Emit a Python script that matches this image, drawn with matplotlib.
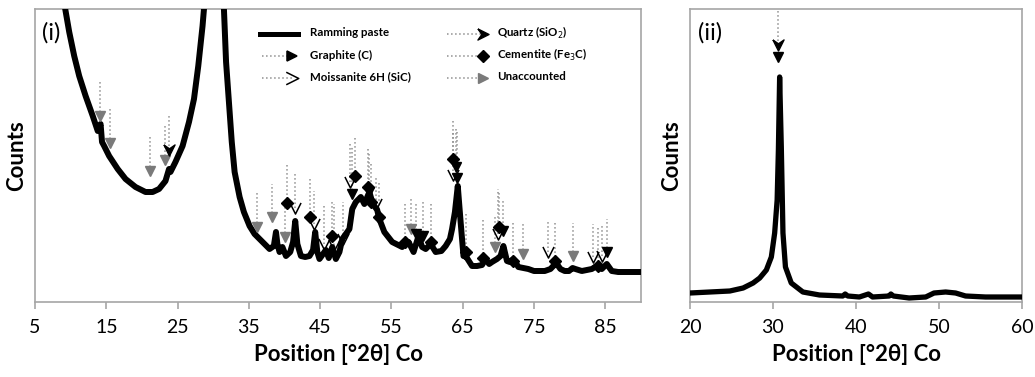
import numpy as np
import matplotlib.pyplot as plt
from matplotlib.path import Path

plt.rcParams['font.family'] = ['Lato', 'DejaVu Sans']

# ---- panel (i): ramming paste pattern (height units) ----
tt_i = [7.8, 8.6, 9.24, 9.8, 10.5, 11.2, 12.1, 13.1, 13.8, 14.2, 14.4, 14.7, 15.4, 16.6,
        17.7, 19.1, 20.5, 21.5, 22.4, 23.3, 23.8, 24.0, 24.7, 25.7, 26.6, 27.3, 27.9,
        28.2, 28.5, 28.7, 29.4, 30.9, 31.3, 31.5, 31.8, 32.2, 32.6, 33.0, 33.7, 34.3,
        35.1, 35.8, 36.5, 37.2, 37.9, 38.5, 38.8, 39.0, 39.3, 39.7, 40.2, 40.8, 41.2,
        41.5, 41.8, 42.3, 42.9, 43.5, 44.0, 44.3, 44.6, 44.9, 45.4, 45.8, 46.2, 46.7,
        47.2, 47.7, 48.1, 48.6, 49.1, 49.5, 50.0, 50.7, 51.2, 51.9, 52.3, 52.6, 53.0,
        53.3, 54.0, 55.1, 56.5, 56.9, 57.4, 58.1, 58.8, 59.3, 59.8, 60.5, 61.2, 62.0,
        62.6, 63.2, 63.5, 63.9, 64.3, 64.7, 65.1, 65.5, 66.3, 67.0, 67.7, 68.2, 68.7,
        69.1, 69.8, 70.3, 70.7, 71.2, 71.6, 72.1, 72.8, 73.5, 74.2, 75.0, 75.6, 76.5,
        77.3, 77.7, 78.0, 78.4, 78.7, 79.3, 79.9, 80.4, 80.8, 81.7, 82.4, 83.1, 83.8,
        84.5, 85.2, 85.9, 86.8, 87.8, 89.2, 90.0]
counts_i = [420, 340, 293, 270, 246, 226, 206, 186, 171, 178, 160, 156, 146, 133,
            123, 115, 110, 110, 113, 121, 133, 130, 140, 156, 180, 203, 236,
            256, 276, 293, 420, 1500, 400, 293, 240, 200, 160, 130, 105, 90,
            76, 68, 63, 58, 53, 56, 70, 58, 50, 55, 46, 50, 60,
            81, 58, 46, 45, 46, 52, 70, 50, 43, 48, 52, 44, 55,
            43, 50, 63, 68, 73, 93, 100, 105, 98, 110, 100, 96, 92,
            83, 70, 60, 55, 58, 60, 50, 66, 55, 53, 58, 50, 51,
            56, 63, 73, 90, 116, 80, 46, 45, 36, 36, 37, 43, 38,
            40, 43, 46, 56, 41, 40, 43, 35, 34, 33, 31, 31, 31,
            33, 36, 41, 36, 33, 31, 31, 34, 33, 31, 32, 33, 36,
            33, 38, 31, 30, 30, 30, 30]

# phase markers: position, marker height, top of the dotted drop line
unacc_x = [14.1, 15.5, 21.1, 23.2, 36.1, 38.3, 40.0, 57.8, 69.5, 73.5, 80.5]
unacc_y = [186, 159, 131, 142, 75, 85, 65, 73, 55, 48, 46]
unacc_top = [220, 193, 166, 176, 110, 118, 96, 105, 86, 80, 79]

graph_x = [49.4, 51.9, 58.5, 59.4, 64.0, 64.2, 70.6, 85.3]
graph_y = [108, 110, 68, 66, 135, 124, 71, 50]
graph_top = [155, 150, 100, 100, 175, 170, 103, 83]

quartz_x = [23.8]
quartz_y = [152]
quartz_top = [188]

moiss_x = [41.4, 44.2, 45.6, 46.9, 48.2, 49.2, 52.8, 63.7, 70.0, 77.0, 83.3, 84.5]
moiss_y = [94, 78, 58, 57, 63, 120, 98, 127, 68, 50, 45, 46]
moiss_top = [128, 111, 96, 98, 100, 160, 125, 170, 113, 80, 78, 78]

cem_x = [40.4, 43.6, 46.6, 49.9, 51.7, 52.1, 53.3, 56.9, 60.5, 63.6, 65.5, 67.9,
         70.1, 72.1, 78.0, 83.9]
cem_y = [99, 85, 66, 126, 115, 100, 85, 60, 60, 143, 50, 44, 75, 41, 41, 36]
cem_top = [138, 123, 100, 166, 155, 140, 120, 98, 100, 183, 88, 83, 110, 81, 80, 75]

# ---- panel (ii) ----
tt_ii = [20.0, 22.4, 24.8, 26.4, 27.6, 28.4, 29.2, 29.8, 30.2, 30.5, 30.65, 30.8,
         31.0, 31.2, 31.5, 32.2, 33.6, 35.6, 38.4, 38.7, 39.0, 40.4, 41.5, 42.0,
         44.0, 44.2, 44.5, 46.4, 48.4, 49.4, 50.8, 52.0, 53.2, 55.6, 59.8, 60.0]
counts_ii = [9, 10, 11, 14, 19, 24, 32, 45, 69, 102, 152, 225,
             155, 69, 35, 19, 10, 7, 6, 8, 6, 5, 8, 5,
             6, 8, 6, 4, 5, 9, 10, 9, 6, 5, 5, 5]
q2_x = [30.6]
q2_y = [257]
g2_y = [245]

labels = ['Ramming paste', 'Graphite (C)', 'Moissanite 6H (SiC)',
          'Quartz (SiO$_2$)', 'Cementite (Fe$_3$C)', 'Unaccounted']

# marker shapes
chev_down = Path([(-1, 1), (0, -1), (1, 1)], [Path.MOVETO, Path.LINETO, Path.LINETO])
chev_right = Path([(-1, 1), (1, 0), (-1, -1)], [Path.MOVETO, Path.LINETO, Path.LINETO])
stealth_down = Path([(-1, 1), (0, -1), (1, 1), (0, 0.3), (-1, 1)])
stealth_right = Path([(-1, 1), (1, 0), (-1, -1), (-0.3, 0), (-1, 1)])

GRID = '#a6a6a6'
DOT = '#8f8f8f'

fig = plt.figure(figsize=(10.35, 3.77), dpi=100)
ax1 = fig.add_axes([35/1035, 1-302/377, 606/1035, 293/377])
ax2 = fig.add_axes([690/1035, 1-302/377, 332/1035, 293/377])

for ax in (ax1, ax2):
    for s in ax.spines.values():
        s.set_color(GRID)
        s.set_linewidth(1.2)
    ax.set_yticks([])
    ax.tick_params(axis='x', direction='out', length=5, width=1.2, color=GRID,
                   labelsize=14, pad=7)
    ax.set_ylabel('Counts', fontsize=16, fontweight='bold', labelpad=6)
    ax.set_xlabel('Position [°2θ] Co', fontsize=16, fontweight='bold', labelpad=6)

# panel (i)
ax1.vlines(unacc_x, unacc_y, unacc_top, colors=DOT, linestyles=':', lw=1.1)
ax1.vlines(graph_x, graph_y, graph_top, colors=DOT, linestyles=':', lw=1.1)
ax1.vlines(quartz_x, quartz_y, quartz_top, colors=DOT, linestyles=':', lw=1.1)
ax1.vlines(moiss_x, moiss_y, moiss_top, colors=DOT, linestyles=':', lw=1.1)
ax1.vlines(cem_x, cem_y, cem_top, colors=DOT, linestyles=':', lw=1.1)
ax1.plot(tt_i, counts_i, color='black', lw=4.3, solid_joinstyle='round', zorder=3)
ax1.plot(unacc_x, unacc_y, 'v', color='#7a7a7a', ms=7.5, ls='none', zorder=4)
ax1.plot(graph_x, graph_y, 'v', color='black', ms=7, ls='none', zorder=4)
ax1.plot(quartz_x, quartz_y, marker=stealth_down, color='black', ms=8, ls='none', zorder=4)
ax1.plot(moiss_x, moiss_y, marker=chev_down, color='black', mfc='none', mew=1.1,
         ms=8, ls='none', zorder=4)
ax1.plot(cem_x, cem_y, 'D', color='black', ms=6, ls='none', zorder=4)
ax1.set_xlim(5, 90)
ax1.set_ylim(0, 293)
ax1.set_xticks([5, 15, 25, 35, 45, 55, 65, 75, 85])
ax1.text(0.012, 0.92, '(i)', transform=ax1.transAxes, fontsize=17, va='center')

# legend drawn by hand (two columns of three rows)
def ax_xy(px, py):
    return (px - 35) / 606, (302 - py) / 293

rows = [34, 56, 78]
tr = ax1.transAxes
x0, y0 = ax_xy(260, rows[0]); x1, _ = ax_xy(298, rows[0])
ax1.plot([x0, x1], [y0, y0], color='black', lw=3.6, transform=tr)
for i, (mk, fc, ms) in enumerate([('>', 'black', 7), (chev_right, 'none', 9)]):
    xa, ya = ax_xy(262, rows[i+1]); xb, _ = ax_xy(292, rows[i+1])
    ax1.plot([xa, xb], [ya, ya], color=DOT, ls=':', lw=1.1, transform=tr)
    ax1.plot([xb], [ya], marker=mk, color='black', mfc=fc, mew=1.1, ms=ms, transform=tr)
col2 = [(stealth_right, 'black', 8), ('D', 'black', 6), ('>', '#7a7a7a', 7)]
for i, (mk, c, ms) in enumerate(col2):
    xa, ya = ax_xy(447, rows[i]); xb, _ = ax_xy(483, rows[i])
    ax1.plot([xa, xb], [ya, ya], color=DOT, ls=':', lw=1.1, transform=tr)
    ax1.plot([xb], [ya], marker=mk, color=c, ms=ms, transform=tr)
for i in range(3):
    xt, yt = ax_xy(310, rows[i] - 1)
    ax1.text(xt, yt, labels[i], transform=tr, fontsize=8.3, fontweight='bold', va='center')
    xt, yt = ax_xy(497, rows[i] - 1)
    ax1.text(xt, yt, labels[i+3], transform=tr, fontsize=8.3, fontweight='bold', va='center')

# panel (ii)
ax2.vlines(q2_x, q2_y, 293, colors=DOT, linestyles=':', lw=1.1)
ax2.plot(tt_ii, counts_ii, color='black', lw=3.8, solid_joinstyle='round', zorder=3)
ax2.plot(q2_x, q2_y, marker=stealth_down, color='black', ms=8, ls='none', zorder=4)
ax2.plot(q2_x, g2_y, 'v', color='black', ms=7, ls='none', zorder=4)
ax2.set_xlim(20, 60)
ax2.set_ylim(0, 293)
ax2.set_xticks([20, 30, 40, 50, 60])
ax2.text(0.025, 0.92, '(ii)', transform=ax2.transAxes, fontsize=17, va='center')

fig.savefig('out.png', dpi=100)
